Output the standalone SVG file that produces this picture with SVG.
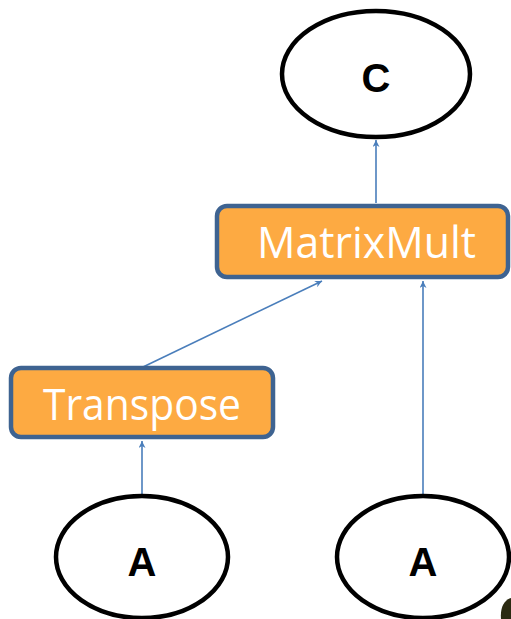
<svg xmlns="http://www.w3.org/2000/svg" width="511" height="619" viewBox="0 0 511 619">
<style>
.ell{fill:#fff;stroke:#000;stroke-width:4.5}
.box{fill:#fdaa42;stroke:#3e6391;stroke-width:4.5}
.lbl{font-family:"Liberation Sans",Arial,sans-serif;font-weight:bold;font-size:40px;fill:#000;text-anchor:middle}
.op{font-family:"Open Sans","Noto Sans",sans-serif;font-size:43px;fill:#fff;text-anchor:middle}
.edge{stroke:#4a7ebb;stroke-width:1.6;fill:none;marker-end:url(#ah)}
</style>
<defs>
<marker id="ah" viewBox="0 0 10 10" refX="10" refY="5" markerWidth="7" markerHeight="7" markerUnits="userSpaceOnUse" orient="auto">
<path d="M0,0 L10,5 L0,10 L3,5 Z" fill="#4a7ebb"/>
</marker>
</defs>
<g id="connectors">
<line class="edge" x1="376" y1="203" x2="376" y2="140"/>
<line class="edge" x1="143" y1="367" x2="322" y2="281"/>
<line class="edge" x1="142" y1="495" x2="142" y2="441"/>
<line class="edge" x1="423" y1="495" x2="423" y2="281"/>
</g>
<g id="nodeC">
<ellipse class="ell" cx="376" cy="74" rx="94" ry="63"/>
<text class="lbl" x="376" y="92">C</text>
</g>
<g id="nodeMatrixMult">
<rect class="box" x="217" y="206" width="291" height="71" rx="10"/>
<text class="op" x="366.5" y="258" textLength="219" lengthAdjust="spacingAndGlyphs">MatrixMult</text>
</g>
<g id="nodeTranspose">
<rect class="box" x="11" y="368" width="262" height="69" rx="10"/>
<text class="op" x="142" y="420" textLength="198" lengthAdjust="spacingAndGlyphs">Transpose</text>
</g>
<g id="nodeA1">
<ellipse class="ell" cx="142" cy="557" rx="86" ry="61"/>
<text class="lbl" x="142" y="576">A</text>
</g>
<g id="nodeA2">
<ellipse class="ell" cx="423" cy="557" rx="86" ry="61"/>
<text class="lbl" x="423" y="576">A</text>
</g>
<path d="M511,598 C504,600 500,608 501,619 L511,619 Z" fill="#2b2a12"/>
</svg>
